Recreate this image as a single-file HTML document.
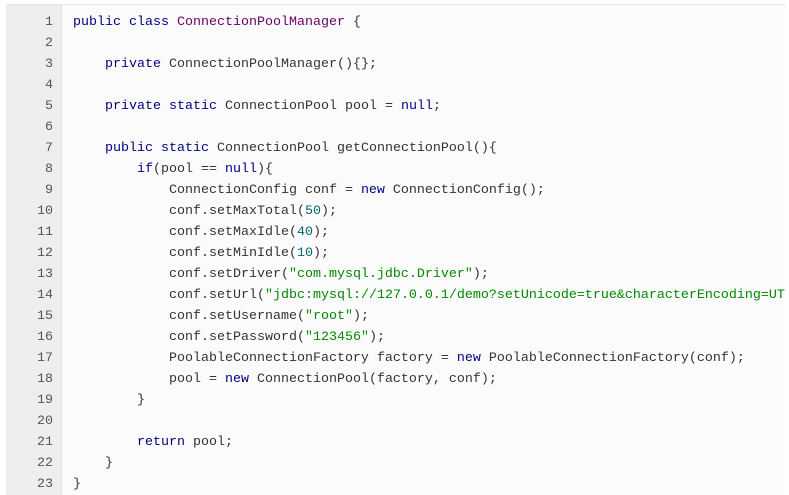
<!DOCTYPE html>
<html><head><meta charset="utf-8"><style>
html,body{margin:0;padding:0;background:#fff;width:789px;height:485px;overflow:hidden}
.wrap{position:absolute;left:6px;top:4px;width:779px;height:490px;background:#fbfbfb;border-top:1px solid #e6e6e6;overflow:hidden}
.gut{position:absolute;left:0;top:0;width:55px;height:100%;background:#eeeeee;border-right:1px solid #e0e0e0}
.ln,.code div{position:absolute;height:21px;line-height:21px;font-family:"Liberation Mono","Noto Sans CJK SC",monospace;font-size:13.33px;white-space:pre}
.ln{right:8px;color:#555;text-align:right}
.code div{left:67px;color:#333}
.k{color:#000080}.c{color:#660066}.n{color:#006666}.s{color:#008800}
</style></head><body>
<div class="wrap">
<div class="gut">
<div class="ln" style="top:7px">1</div><div class="ln" style="top:28px">2</div><div class="ln" style="top:49px">3</div><div class="ln" style="top:70px">4</div><div class="ln" style="top:91px">5</div><div class="ln" style="top:112px">6</div><div class="ln" style="top:133px">7</div><div class="ln" style="top:154px">8</div><div class="ln" style="top:175px">9</div><div class="ln" style="top:196px">10</div><div class="ln" style="top:217px">11</div><div class="ln" style="top:238px">12</div><div class="ln" style="top:259px">13</div><div class="ln" style="top:280px">14</div><div class="ln" style="top:301px">15</div><div class="ln" style="top:322px">16</div><div class="ln" style="top:343px">17</div><div class="ln" style="top:364px">18</div><div class="ln" style="top:385px">19</div><div class="ln" style="top:406px">20</div><div class="ln" style="top:427px">21</div><div class="ln" style="top:448px">22</div><div class="ln" style="top:469px">23</div>
</div>
<div class="code">
<div style="top:7px"><span class="k">public class</span> <span class="c">ConnectionPoolManager</span> {</div>
<div style="top:49px">    <span class="k">private</span> ConnectionPoolManager(){};</div>
<div style="top:91px">    <span class="k">private static</span> ConnectionPool pool = <span class="k">null</span>;</div>
<div style="top:133px">    <span class="k">public static</span> ConnectionPool getConnectionPool(){</div>
<div style="top:154px">        <span class="k">if</span>(pool == <span class="k">null</span>){</div>
<div style="top:175px">            ConnectionConfig conf = <span class="k">new</span> ConnectionConfig();</div>
<div style="top:196px">            conf.setMaxTotal(<span class="n">50</span>);</div>
<div style="top:217px">            conf.setMaxIdle(<span class="n">40</span>);</div>
<div style="top:238px">            conf.setMinIdle(<span class="n">10</span>);</div>
<div style="top:259px">            conf.setDriver(<span class="s">"com.mysql.jdbc.Driver"</span>);</div>
<div style="top:280px">            conf.setUrl(<span class="s">"jdbc:mysql://127.0.0.1/demo?setUnicode=true&amp;characterEncoding=UTF8"</span>);</div>
<div style="top:301px">            conf.setUsername(<span class="s">"root"</span>);</div>
<div style="top:322px">            conf.setPassword(<span class="s">"123456"</span>);</div>
<div style="top:343px">            PoolableConnectionFactory factory = <span class="k">new</span> PoolableConnectionFactory(conf);</div>
<div style="top:364px">            pool = <span class="k">new</span> ConnectionPool(factory, conf);</div>
<div style="top:385px">        }</div>
<div style="top:427px">        <span class="k">return</span> pool;</div>
<div style="top:448px">    }</div>
<div style="top:469px">}</div>
</div>
</div>
</body></html>
